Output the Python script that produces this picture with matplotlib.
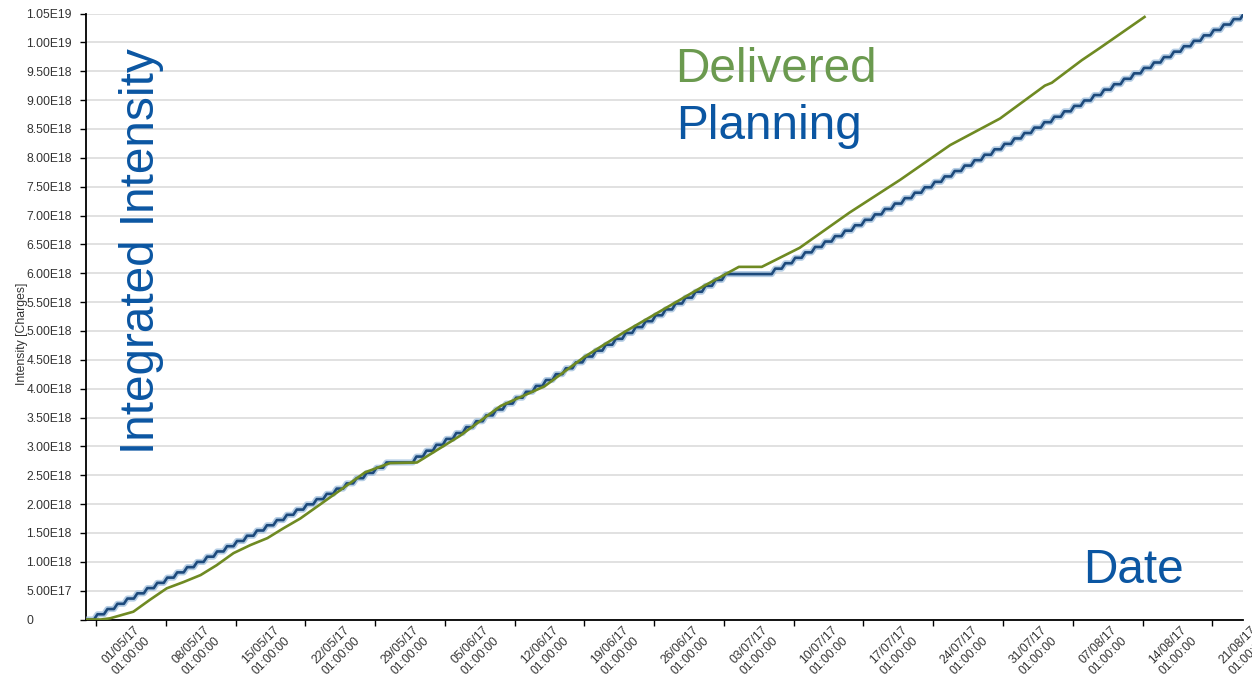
import numpy as np
import matplotlib
matplotlib.use("Agg")
import matplotlib.pyplot as plt
import matplotlib.transforms as mtransforms

# ---------------- data ----------------
# x: days since 01/05/17 01:00:00
# Planned daily intensity increments (units of 1e16 charges), one per day boundary 0..115
plan_daily = [
    9.07, 9.07, 9.07, 9.07, 9.07, 9.07, 9.07,
    9.07, 9.07, 9.07, 9.07, 9.07, 9.07, 9.07,
    9.07, 9.07, 9.07, 9.07, 9.07, 9.07, 9.07,
    9.07, 9.07, 9.07, 9.07, 9.07, 9.07, 9.07,
    9.07, 9.07, 0.0, 0.0, 10.2, 10.2, 10.2,
    10.2, 10.2, 10.2, 10.2, 10.2, 10.2, 10.2,
    10.2, 10.2, 10.2, 10.2, 10.2, 10.2, 10.2,
    10.2, 10.2, 10.2, 10.2, 10.2, 10.2, 10.2,
    10.2, 10.2, 10.2, 10.2, 10.2, 10.2, 10.2,
    10.2, 0.0, 0.0, 0.0, 0.0, 9.4, 9.4,
    9.4, 9.4, 9.4, 9.4, 9.4, 9.4, 9.4,
    9.4, 9.4, 9.4, 9.4, 9.4, 9.4, 9.4,
    9.4, 9.4, 9.4, 9.4, 9.4, 9.4, 9.4,
    9.4, 9.4, 9.4, 9.4, 9.4, 9.4, 9.4,
    9.4, 9.4, 9.4, 9.4, 9.4, 9.4, 9.4,
    9.4, 9.4, 9.4, 9.4, 9.4, 9.4, 9.4,
    9.4, 9.4, 9.4, 9.4,
]

# Delivered integrated intensity (units of 1e18 charges)
deliv_days = [-1.0, 0.5, 1.4, 3.75, 5.4, 7.1, 8.8, 10.5, 12.1, 13.8, 15.5, 17.2,
              18.8, 20.5, 24.5, 27.0, 29.5, 32.2, 36.5, 40.6, 45.0, 49.0, 53.0,
              57.0, 61.0, 64.5, 66.8, 70.6, 75.6, 80.7, 85.7, 90.7, 95.2, 95.9,
              98.9, 100.7, 105.2]
deliv_vals = [0.0, 0.0, 0.02, 0.135, 0.34, 0.54, 0.65, 0.77, 0.94, 1.15, 1.29, 1.41,
              1.58, 1.75, 2.24, 2.55, 2.71, 2.72, 3.18, 3.70, 4.04, 4.55, 4.98,
              5.38, 5.78, 6.11, 6.11, 6.44, 7.05, 7.62, 8.22, 8.68, 9.25, 9.30,
              9.69, 9.90, 10.44]

xtick_labels = ["01/05/17", "08/05/17", "15/05/17", "22/05/17", "29/05/17",
                "05/06/17", "12/06/17", "19/06/17", "26/06/17", "03/07/17",
                "10/07/17", "17/07/17", "24/07/17", "31/07/17", "07/08/17",
                "14/08/17", "21/08/17"]
xtick_days = [0, 7, 14, 21, 28, 35, 42, 49, 56, 63, 70, 77, 84, 91, 98, 105, 112]

ytick_vals = [0, 5e17, 1e18, 1.5e18, 2e18, 2.5e18, 3e18, 3.5e18, 4e18, 4.5e18, 5e18,
              5.5e18, 6e18, 6.5e18, 7e18, 7.5e18, 8e18, 8.5e18, 9e18, 9.5e18, 1e19, 1.05e19]
ytick_labels = ["0", "5.00E17", "1.00E18", "1.50E18", "2.00E18", "2.50E18", "3.00E18",
                "3.50E18", "4.00E18", "4.50E18", "5.00E18", "5.50E18", "6.00E18",
                "6.50E18", "7.00E18", "7.50E18", "8.00E18", "8.50E18", "9.00E18",
                "9.50E18", "1.00E19", "1.05E19"]

# ---------------- figure ----------------
plt.rcParams['font.family'] = ['Liberation Sans', 'DejaVu Sans']
W, H = 1252, 682
fig = plt.figure(figsize=(W / 100, H / 100), dpi=100)
fig.patch.set_facecolor("white")
ax = fig.add_axes([86 / W, 1 - 619.5 / H, (1243 - 86) / W, (619.5 - 13.5) / H])

# staircase for planning
px, py = [-1.0], [0.0]
c = 0.0
for k, inc in enumerate(plan_daily):
    px += [k - 0.2, k + 0.15]
    py += [c, c + inc * 1e16]
    c += inc * 1e16

ax.plot(px, py, color="#9dbddc", lw=4.4, alpha=0.75, solid_joinstyle="round", zorder=3)
ax.plot(px, py, color="#1d4a7c", lw=1.9, solid_joinstyle="round", zorder=4)
ax.plot(deliv_days, np.array(deliv_vals) * 1e18, color="#6f8a22", lw=1.9, zorder=5)

ax.set_xlim(-1.0, 115.08)
ax.set_ylim(0, 1.05e19)

ax.set_yticks(ytick_vals)
ax.set_yticklabels(ytick_labels, ha="left", fontsize=8.7, color="#333333")
ax.tick_params(axis="y", length=4, width=1, color="black", pad=39)
ax.set_xticks(xtick_days)
ax.set_xticklabels([])
ax.tick_params(axis="x", length=4, width=1, color="black")

ax.grid(axis="y", color="#dedede", lw=1.3)
ax.set_axisbelow(True)
for s in ["top", "right"]:
    ax.spines[s].set_visible(False)
for s in ["left", "bottom"]:
    ax.spines[s].set_color("black")
    ax.spines[s].set_linewidth(1.3)

trans = mtransforms.blended_transform_factory(ax.transData, ax.transAxes) + \
    mtransforms.ScaledTranslation(38 / 100, -5 / 100, fig.dpi_scale_trans)
for d, lab in zip(xtick_days, xtick_labels):
    ax.text(d, 0, lab + "\n01:00:00", transform=trans, rotation=45, ha="right",
            va="top", rotation_mode="anchor", fontsize=8.8, color="#333333",
            linespacing=1.3, clip_on=False)

fig.text(22 / W, 1 - 334 / H, "Intensity [Charges]", rotation=90, ha="center",
         va="center", fontsize=8.8, color="#333333")

blue = "#0b56a2"
green = "#6b9a4f"
fig.text(154 / W, 1 - 454 / H, "Integrated Intensity", rotation=90, ha="left",
         va="baseline", rotation_mode="anchor", fontsize=34.4, color=blue)
fig.text(675 / W, 1 - 82 / H, "Delivered", fontsize=34.4, color=green, va="baseline")
fig.text(676 / W, 1 - 139 / H, "Planning", fontsize=34.4, color=blue, va="baseline")
fig.text(1083 / W, 1 - 583 / H, "Date", fontsize=34.4, color=blue, va="baseline")

fig.savefig("out.png", dpi=100)
